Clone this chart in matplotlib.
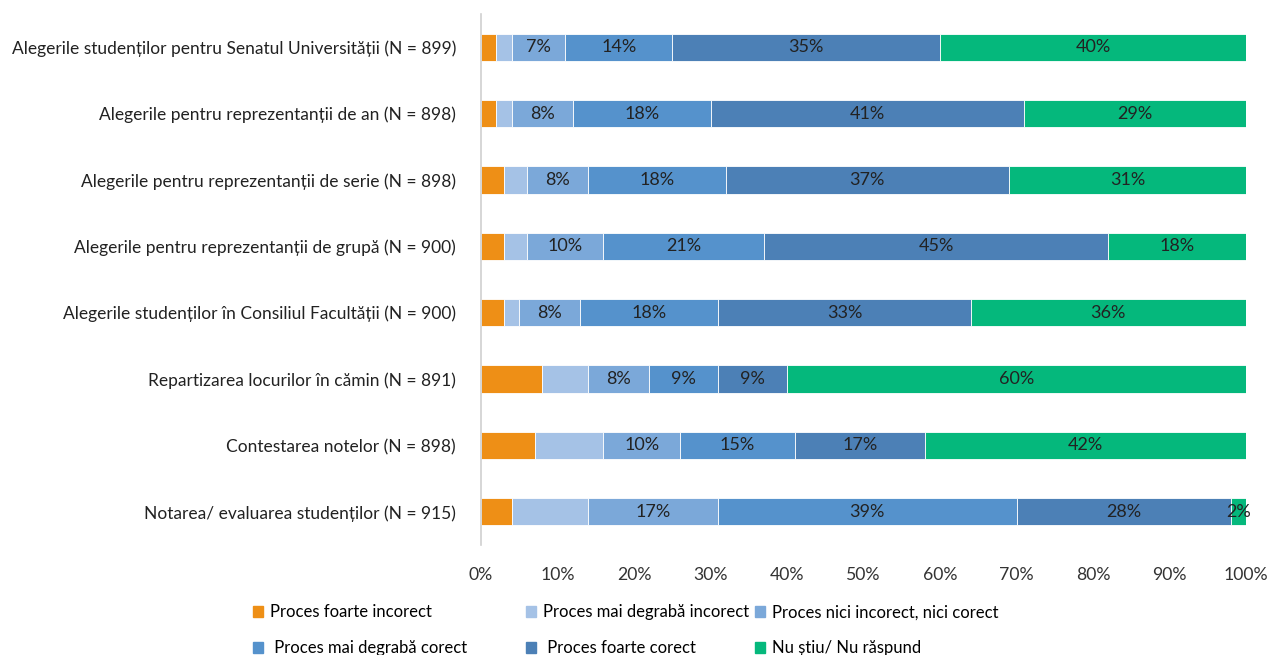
import numpy as np
import matplotlib.pyplot as plt
from matplotlib.patches import Patch

plt.rcParams['font.family'] = ['Lato', 'DejaVu Sans']

# Categorii (de sus in jos)
categories = [
    'Alegerile studenților pentru Senatul Universității (N = 899)',
    'Alegerile pentru reprezentanții de an (N = 898)',
    'Alegerile pentru reprezentanții de serie (N = 898)',
    'Alegerile pentru reprezentanții de grupă (N = 900)',
    'Alegerile studenților în Consiliul Facultății (N = 900)',
    'Repartizarea locurilor în cămin (N = 891)',
    'Contestarea notelor (N = 898)',
    'Notarea/ evaluarea studenților (N = 915)',
]

series_names = [
    'Proces foarte incorect',
    'Proces mai degrabă incorect',
    'Proces nici incorect, nici corect',
    ' Proces mai degrabă corect',
    ' Proces foarte corect',
    'Nu știu/ Nu răspund',
]

foarte_incorect = [2, 2, 3, 3, 3, 8, 7, 4]
degraba_incorect = [2, 2, 3, 3, 2, 6, 9, 10]
nici = [7, 8, 8, 10, 8, 8, 10, 17]
degraba_corect = [14, 18, 18, 21, 18, 9, 15, 39]
foarte_corect = [35, 41, 37, 45, 33, 9, 17, 28]
nu_stiu = [40, 29, 31, 18, 36, 60, 42, 2]

colors = ['#EE8F16', '#A5C2E6', '#7BA8D9', '#5592CC', '#4C80B6', '#05B87C']
labeled = [False, False, True, True, True, True]

data = [foarte_incorect, degraba_incorect, nici, degraba_corect, foarte_corect, nu_stiu]

fig = plt.figure(figsize=(12.71, 6.55), dpi=100)
ax = fig.add_axes([481 / 1271, 1 - 545 / 655, 765 / 1271, 531 / 655])

y = np.arange(len(categories))
left = np.zeros(len(categories))
for vals, col, name, lab in zip(data, colors, series_names, labeled):
    vals = np.array(vals, dtype=float)
    bars = ax.barh(y, vals, left=left, height=0.41, color=col, label=name,
                   edgecolor='white', linewidth=0.6)
    if lab:
        for b, v in zip(bars, vals):
            ax.text(b.get_x() + b.get_width() / 2, b.get_y() + b.get_height() / 2,
                    f'{int(v)}%', ha='center', va='center', fontsize=13, color='#222222')
    left += vals

ax.set_xlim(0, 100)
ax.set_ylim(len(categories) - 0.5, -0.5)
ax.set_yticks(y)
ax.set_yticklabels(categories, fontsize=12.5, color='#222222')
ax.set_xticks(np.arange(0, 101, 10))
ax.set_xticklabels([f'{t}%' for t in range(0, 101, 10)], fontsize=12.7, color='#333333')
ax.tick_params(axis='both', length=0)
ax.tick_params(axis='y', pad=18)
ax.tick_params(axis='x', pad=16)
for s in ['top', 'right', 'bottom']:
    ax.spines[s].set_visible(False)
ax.spines['left'].set_color('#D0D0D0')
ax.spines['left'].set_linewidth(1.2)

# legenda: trei coloane, cate doua intrari
col_x = [250, 523, 752]
for k, x0 in enumerate(col_x):
    idx = [k, k + 3]
    fig.legend([Patch(color=colors[i]) for i in idx], [series_names[i] for i in idx],
               loc='upper left', bbox_to_anchor=(x0 / 1271, 1 - 601 / 655),
               frameon=False, fontsize=12, handlelength=0.6, handleheight=0.6,
               handletextpad=0.4, labelspacing=1.2, borderaxespad=0, borderpad=0.2)

fig.savefig('out.png', dpi=100)
